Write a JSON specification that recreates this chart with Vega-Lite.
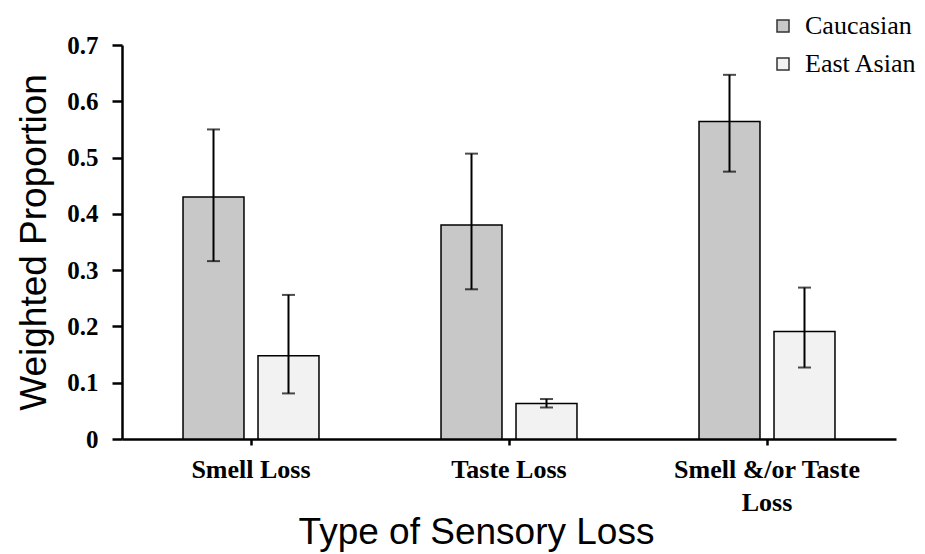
{
  "$schema": "https://vega.github.io/schema/vega-lite/v6.json",
  "width": 774,
  "height": 394,
  "autosize": {"type": "none"},
  "padding": {"left": 122, "top": 45, "right": 29, "bottom": 115},
  "background": "white",
  "config": {"view": {"stroke": null}},
  "data": {
    "values": [
      {"type": "Smell Loss", "group": "Caucasian", "value": 0.430, "lo": 0.316, "hi": 0.550},
      {"type": "Smell Loss", "group": "East Asian", "value": 0.148, "lo": 0.081, "hi": 0.256},
      {"type": "Taste Loss", "group": "Caucasian", "value": 0.380, "lo": 0.266, "hi": 0.507},
      {"type": "Taste Loss", "group": "East Asian", "value": 0.063, "lo": 0.056, "hi": 0.071},
      {"type": "Smell &/or Taste Loss", "group": "Caucasian", "value": 0.564, "lo": 0.475, "hi": 0.647},
      {"type": "Smell &/or Taste Loss", "group": "East Asian", "value": 0.191, "lo": 0.127, "hi": 0.269}
    ]
  },
  "encoding": {
    "x": {
      "field": "type",
      "type": "nominal",
      "sort": ["Smell Loss", "Taste Loss", "Smell &/or Taste Loss"],
      "scale": {"paddingInner": 0.473, "paddingOuter": 0.2365},
      "axis": {
        "title": "Type of Sensory Loss",
        "titleFont": "Liberation Sans",
        "titleFontSize": 37,
        "titleFontWeight": "normal",
        "titleColor": "black",
        "titleX": 354,
        "titleY": 104,
        "titleBaseline": "alphabetic",
        "labelFont": "Liberation Serif",
        "labelFontWeight": "bold",
        "labelFontSize": 26,
        "labelColor": "black",
        "labelAngle": 0,
        "labelPadding": 11,
        "labelLineHeight": 33,
        "labelLimit": 400,
        "labelExpr": "datum.value == 'Smell &/or Taste Loss' ? ['Smell &/or Taste', 'Loss'] : datum.value",
        "domainColor": "black",
        "domainWidth": 2.5,
        "tickColor": "black",
        "tickWidth": 2.5,
        "tickSize": 6
      }
    },
    "xOffset": {
      "field": "group",
      "type": "nominal",
      "scale": {"paddingInner": 0.187, "paddingOuter": 0}
    }
  },
  "layer": [
    {
      "mark": {"type": "bar", "stroke": "black", "strokeWidth": 1.5},
      "encoding": {
        "y": {
          "field": "value",
          "type": "quantitative",
          "scale": {"domain": [0, 0.7], "nice": false},
          "axis": {
            "title": "Weighted Proportion",
            "titleFont": "Liberation Sans",
            "titleFontSize": 37,
            "titleFontWeight": "normal",
            "titleColor": "black",
            "titleX": -77,
            "titleY": 197,
            "titleAngle": -90,
            "titleBaseline": "alphabetic",
            "values": [0, 0.1, 0.2, 0.3, 0.4, 0.5, 0.6, 0.7],
            "format": ".1~f",
            "labelFont": "Liberation Serif",
            "labelFontWeight": "bold",
            "labelFontSize": 25,
            "labelColor": "black",
            "labelPadding": 14,
            "grid": false,
            "domainColor": "black",
            "domainWidth": 2.5,
            "tickColor": "black",
            "tickWidth": 2.5,
            "tickSize": 10
          }
        },
        "color": {
          "field": "group",
          "type": "nominal",
          "scale": {"domain": ["Caucasian", "East Asian"], "range": ["#c8c8c8", "#f2f2f2"]},
          "legend": {
            "title": null,
            "orient": "none",
            "legendX": 648,
            "legendY": -32,
            "symbolType": "square",
            "symbolSize": 144,
            "symbolStrokeColor": "#333333",
            "symbolStrokeWidth": 1.5,
            "labelFont": "Liberation Serif",
            "labelFontSize": 26,
            "labelColor": "black",
            "labelOffset": 9,
            "labelLimit": 300,
            "rowPadding": 12
          }
        }
      }
    },
    {
      "mark": {"type": "rule", "color": "black", "strokeWidth": 2},
      "encoding": {
        "y": {"field": "lo", "type": "quantitative"},
        "y2": {"field": "hi"}
      }
    },
    {
      "mark": {"type": "tick", "color": "black", "thickness": 2, "size": 13},
      "encoding": {
        "y": {"field": "lo", "type": "quantitative"}
      }
    },
    {
      "mark": {"type": "tick", "color": "black", "thickness": 2, "size": 13},
      "encoding": {
        "y": {"field": "hi", "type": "quantitative"}
      }
    }
  ]
}
